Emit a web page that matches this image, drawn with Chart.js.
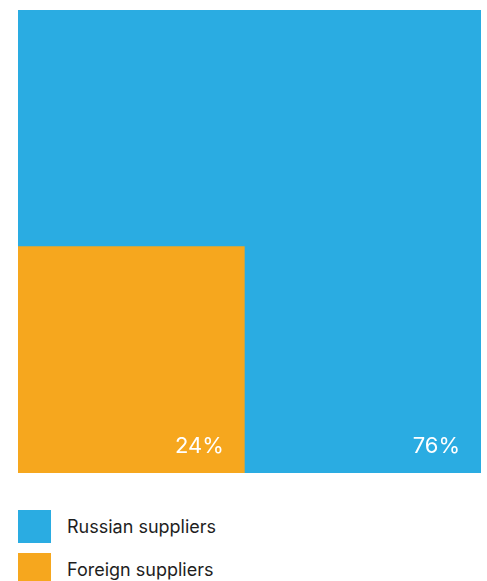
<!DOCTYPE html>
<html>
<head>
<meta charset="utf-8">
<script src="https://cdn.jsdelivr.net/npm/chart.js@4"></script>
<style>
  body { margin: 0; background: #fff; font-family: Inter, "Noto Sans", sans-serif; }
  #wrap { position: relative; width: 487px; height: 581px; overflow: hidden; }
  #legend { position: absolute; left: 18px; top: 510px; }
  .item { display: flex; align-items: center; height: 33px; margin-bottom: 10px; }
  .box { width: 33px; height: 33px; margin-right: 16px; }
  .item span { font-size: 18px; color: #1e1e1e; }
</style>
</head>
<body>
<div id="wrap">
  <canvas id="squares" width="487" height="483"></canvas>
  <div id="legend"></div>
</div>
<script>
const categories = ['Russian suppliers', 'Foreign suppliers'];
const shares = [76, 24];
const colors = ['#2AACE2', '#F6A71E'];

// side of each nested square: Russian one is the whole (100%), foreign one is its own share
const sides = [1, Math.sqrt(shares[1] / 100)];

const datasets = categories.map((name, i) => ({
    label: name,
    data: [{ x: 0, y: sides[i] }, { x: sides[i], y: sides[i] }],
    showLine: true,
    fill: 'origin',
    backgroundColor: colors[i],
    borderWidth: 0,
    pointRadius: 0,
    order: categories.length - i
}));

const shareLabels = {
    id: 'shareLabels',
    afterDatasetsDraw(chart) {
        const { ctx, scales } = chart;
        ctx.save();
        ctx.font = '22px Inter, "Noto Sans", sans-serif';
        ctx.fillStyle = '#ffffff';
        ctx.textAlign = 'right';
        ctx.textBaseline = 'alphabetic';
        shares.forEach((v, i) => {
            const x = scales.x.getPixelForValue(sides[i]) - 21;
            const y = scales.y.getPixelForValue(0) - 20;
            ctx.fillText(v + '%', x, y);
        });
        ctx.restore();
    }
};

new Chart(document.getElementById('squares'), {
    type: 'scatter',
    data: { datasets: datasets },
    options: {
        responsive: false,
        animation: false,
        layout: { padding: { left: 18, right: 6, top: 10, bottom: 10 } },
        scales: {
            x: { type: 'linear', min: 0, max: 1, display: false },
            y: { type: 'linear', min: 0, max: 1, display: false }
        },
        plugins: {
            legend: { display: false },
            tooltip: { enabled: false }
        }
    },
    plugins: [shareLabels]
});

const legend = document.getElementById('legend');
categories.forEach((name, i) => {
    const item = document.createElement('div');
    item.className = 'item';
    item.innerHTML = `<div class="box" style="background:${colors[i]}"></div><span>${name}</span>`;
    legend.appendChild(item);
});
</script>
</body>
</html>
